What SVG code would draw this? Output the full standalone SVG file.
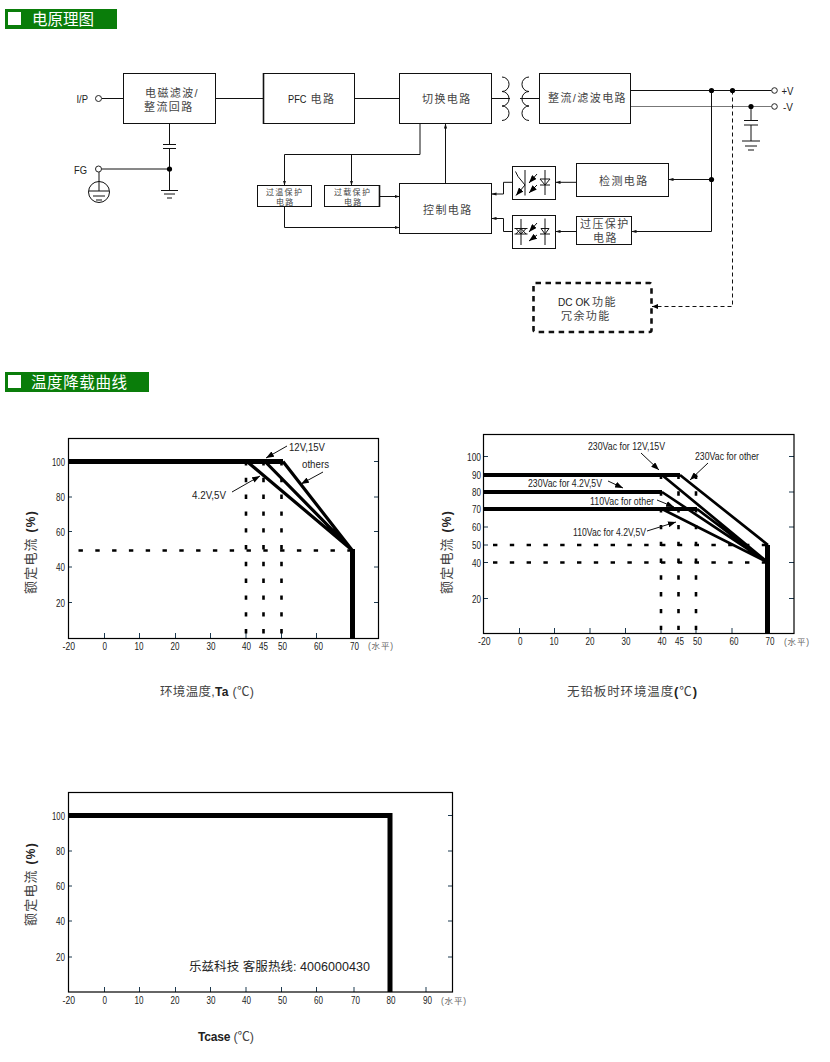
<svg xmlns="http://www.w3.org/2000/svg" width="830" height="1062" viewBox="0 0 830 1062">
<style>
text{font-family:"Liberation Sans","Noto Sans CJK SC",sans-serif;fill:#222}
.cj{fill:#444;font-size:11px;letter-spacing:1.4px}
.sm{font-size:8px;letter-spacing:1.3px}
.ban{fill:#fff;font-size:15.5px}
.lab{font-size:10.5px;fill:#222}
.unit{font-size:8.5px;fill:#666}
.ylab{font-size:13px;fill:#444;letter-spacing:1.2px}
.ttl{font-size:12.5px;fill:#444}
.b{font-weight:bold;fill:#222}
.box{fill:#fff;stroke:#111;stroke-width:1}
.w{fill:none;stroke:#111;stroke-width:1}
.wa{fill:none;stroke:#111;stroke-width:1;marker-end:url(#a)}
.dot{fill:#000}
.pin{fill:#fff;stroke:#222;stroke-width:1}
.frame{fill:none;stroke:#000;stroke-width:1.2}
.tick{fill:none;stroke:#1d3a50;stroke-width:1}
.curve{fill:none;stroke:#000;stroke-width:3.2}
.curve2{fill:none;stroke:#000;stroke-width:2.7}
.heavy{fill:none;stroke:#000;stroke-width:5}
.bar{fill:none;stroke:#000;stroke-width:4}
.dash{fill:none;stroke:#000;stroke-width:2.4;stroke-dasharray:4.4 12.4}
.vd{fill:none;stroke:#000;stroke-width:2.6;stroke-dasharray:4.4 12.4}
.ann{fill:none;stroke:#111;stroke-width:1;marker-end:url(#b)}
</style>
<defs>
<marker id="a" markerUnits="userSpaceOnUse" markerWidth="5" markerHeight="4" refX="5" refY="2" orient="auto"><path d="M0 0.4L5 2L0 3.6Z" fill="#111"/></marker>
<marker id="b" markerUnits="userSpaceOnUse" markerWidth="8" markerHeight="6" refX="8" refY="3" orient="auto"><path d="M0 0L8 3L0 6Z" fill="#000"/></marker>
<marker id="c" markerUnits="userSpaceOnUse" markerWidth="6" markerHeight="5" refX="6" refY="2.5" orient="auto"><path d="M0 0L6 2.5L0 5Z" fill="#000"/></marker>
</defs>
<rect width="830" height="1062" fill="#fff"/>

<g id="banner1"><rect x="5" y="9" width="112" height="20" fill="#0a7d0a"/><rect x="8" y="12" width="13" height="13" fill="#fff"/><text class="ban" x="32" y="25" textLength="62">电原理图</text></g>
<g id="banner2"><rect x="5" y="372" width="144" height="20" fill="#0a7d0a"/><rect x="8" y="375" width="13" height="13" fill="#fff"/><text class="ban" x="31" y="388" textLength="96">温度降载曲线</text></g>

<g id="connectors">
<path class="w" d="M102 98.5H123.5M215.5 98.5H263M354.5 98.5H399.5M491.5 98.5H510M520 98.5H539.5"/>
<path class="w" d="M169.5 123.5V144.5M163 144.5H176M163 148.5H176M169.5 148.5V190.5M102 169H169.5M161 190.5H178M164 194H175M167 198H172"/>
<path class="w" d="M99 172V191M89 191H109M93 196H105M96 200H102"/>
<circle class="w" cx="99" cy="192" r="10.5"/>
<path class="w" d="M502 77A7 7.2 0 0 1 502 91.5A7 7.2 0 0 1 502 106A7 7.2 0 0 1 502 120.5"/>
<path class="w" d="M529 77A7 7.2 0 0 0 529 91.5A7 7.2 0 0 0 529 106A7 7.2 0 0 0 529 120.5"/>
<path class="w" d="M630.5 90.5H771.5"/>
<path d="M630.5 106.5H771.5" fill="none" stroke="#777" stroke-width="1.2"/>
<path class="w" d="M711.5 90.5V231.5"/>
<path class="wa" d="M711.5 179.5H668.5"/>
<path class="wa" d="M711.5 231.5H631.5"/>
<path class="wa" d="M576.5 182.3H555.5"/>
<path class="wa" d="M576.5 231.5H555.5"/>
<path class="wa" d="M512.5 182.3H503.5V194H491.5"/>
<path class="wa" d="M512.5 231.5H503.5V218.5H491.5"/>
<path class="w" d="M751 106.5V120.5M744 120.5H758M744 125H758M751 125V141M742 141H760M745 146H757M748 150H754"/>
<path class="w" d="M420 123.5V154.5H284.5"/>
<path class="wa" d="M284.5 154.5V185.5"/>
<path class="wa" d="M351.5 154.5V185.5"/>
<path class="wa" d="M379.5 196.5H399.5"/>
<path class="wa" d="M284.5 206.5V227.5H399.5"/>
<path class="wa" d="M445.5 183.5V123.5"/>
<path d="M732.5 90.5V306.5H652" fill="none" stroke="#111" stroke-width="1" stroke-dasharray="4 3" marker-end="url(#c)"/>
<circle class="dot" cx="169.5" cy="169" r="2.6"/><circle class="dot" cx="711.5" cy="90.5" r="2.6"/><circle class="dot" cx="732.5" cy="90.5" r="2.6"/><circle class="dot" cx="751" cy="106.5" r="2.6"/><circle class="dot" cx="711.5" cy="179.5" r="2.6"/>
</g>

<g id="pins">
<text class="lab" x="76.5" y="103" textLength="11.5" lengthAdjust="spacingAndGlyphs">I/P</text><circle class="pin" cx="98.5" cy="98.5" r="3"/>
<text class="lab" x="74" y="173.5" textLength="13" lengthAdjust="spacingAndGlyphs">FG</text><circle class="pin" cx="98.5" cy="169" r="3"/>
<circle class="pin" cx="774.5" cy="90.5" r="2.8"/><text class="lab" x="781.5" y="94.5" textLength="12" lengthAdjust="spacingAndGlyphs">+V</text>
<circle class="pin" cx="774.5" cy="106.5" r="2.8"/><text class="lab" x="783" y="110.5" textLength="10" lengthAdjust="spacingAndGlyphs">-V</text>
</g>

<g id="emi"><rect class="box" x="123.5" y="73.5" width="92" height="50"/><text class="cj" x="145" y="97">电磁滤波/</text><text class="cj" x="144" y="110.5">整流回路</text></g>
<g id="pfc"><rect class="box" x="263.5" y="73.5" width="91" height="50"/><path d="M263.5 73V124" stroke="#111" stroke-width="1.6"/><text class="lab" x="288" y="102.5" textLength="18.5" lengthAdjust="spacingAndGlyphs">PFC</text><text class="cj" x="310.5" y="103">电路</text></g>
<g id="switch"><rect class="box" x="399.5" y="73.5" width="92" height="50"/><text class="cj" x="422" y="102.5">切换电路</text></g>
<g id="rectifier"><rect class="box" x="539.5" y="73.5" width="91" height="50"/><text class="cj" x="548" y="102" textLength="79">整流/滤波电路</text></g>
<g id="overtemp"><rect class="box" x="257.5" y="185.5" width="54" height="21"/><text class="cj sm" x="266" y="194.5">过温保护</text><text class="cj sm" x="276" y="204.5">电路</text></g>
<g id="overload"><rect class="box" x="324.5" y="185.5" width="55" height="21"/><path d="M379.5 185V207" stroke="#111" stroke-width="1.6"/><text class="cj sm" x="334" y="194.5">过载保护</text><text class="cj sm" x="344" y="204.5">电路</text></g>
<g id="control"><rect class="box" x="399.5" y="183.5" width="92" height="50"/><text class="cj" x="423" y="213.5">控制电路</text></g>
<g id="detect"><rect class="box" x="576.5" y="163.5" width="92" height="33"/><text class="cj" x="599" y="185">检测电路</text></g>
<g id="ovp"><rect class="box" x="576.5" y="216.5" width="55" height="28"/><text class="cj" x="580" y="228">过压保护</text><text class="cj" x="593" y="241.5">电路</text></g>
<g id="opto1"><rect class="box" x="512.5" y="166.5" width="43" height="33"/>
<path class="w" d="M525 170V195.5M515.5 171.5L518 176.5L525 185"/><path class="ann" d="M525 185L516 195.5"/><path class="ann" d="M537 174L529 183"/><path class="ann" d="M537 185L529 193"/>
<path class="w" d="M545 170V195M540 185H550M540 179H550L545 185Z"/></g>
<g id="opto2"><rect class="box" x="512.5" y="215.5" width="43" height="33"/>
<path class="w" d="M521 219V245M514.5 228.5H527.5M514.5 234H527.5M516 228.5L521 234L526 228.5M516 234L521 228.5L526 234"/><path class="ann" d="M537 223L529 232"/><path class="ann" d="M537 235L529 241"/>
<path class="w" d="M545 218.5V245M541 228.5H549M540 234H550M541 228.5L545 234L549 228.5"/></g>
<g id="dcok"><rect x="533.5" y="283" width="118" height="49" rx="2" fill="none" stroke="#111" stroke-width="2.6" stroke-dasharray="5.5 4.5"/><text class="lab" x="558" y="306" textLength="32" lengthAdjust="spacingAndGlyphs">DC OK</text><text class="cj" x="592" y="306" letter-spacing="0" font-size="10">功能</text><text class="cj" x="561" y="320">冗余功能</text></g>

<g id="chart1">
<path class="tick" d="M104.5 638V633M139.5 638V633M175.5 638V633M210.5 638V633M246 638V633M281.5 638V633M316.5 638V633M352 638V633M68 461.5H72M68 497H72M68 531.5H72M68 567H72M68 602.5H72M378 461.5H374M378 497H374M378 531.5H374M378 567H374M378 602.5H374"/>
<rect class="frame" x="68.5" y="438.5" width="310" height="200"/>
<path class="dash" d="M78.5 550.5H352"/>
<path class="vd" d="M246 461V638M263.5 461V638M281.5 461V638"/>
<path class="heavy" d="M68 461.5H283"/>
<path class="curve" d="M247 461.5L352 550M265 461.5L352 550M283 461.5L352 550"/>
<path class="heavy" d="M352.5 549V638"/>
<path class="ann" d="M287 446L266 458"/><path class="ann" d="M323 472L301 484"/><path class="ann" d="M232 492L260 476"/>
<text class="lab" x="289" y="451" textLength="36" lengthAdjust="spacingAndGlyphs">12V,15V</text><text class="lab" x="302" y="468" textLength="27" lengthAdjust="spacingAndGlyphs">others</text><text class="lab" x="192" y="499" textLength="34" lengthAdjust="spacingAndGlyphs">4.2V,5V</text>
<g class="labs"><text class="lab" x="52" y="465.5" textLength="13" lengthAdjust="spacingAndGlyphs">100</text><text class="lab" x="56" y="501" textLength="9" lengthAdjust="spacingAndGlyphs">80</text><text class="lab" x="56" y="535.5" textLength="9" lengthAdjust="spacingAndGlyphs">60</text><text class="lab" x="56" y="571" textLength="9" lengthAdjust="spacingAndGlyphs">40</text><text class="lab" x="56" y="606.5" textLength="9" lengthAdjust="spacingAndGlyphs">20</text>
<text class="lab" x="62.5" y="650" textLength="12.5" lengthAdjust="spacingAndGlyphs">-20</text><text class="lab" x="102.5" y="650" textLength="4.5" lengthAdjust="spacingAndGlyphs">0</text><text class="lab" x="134.5" y="650" textLength="9" lengthAdjust="spacingAndGlyphs">10</text><text class="lab" x="170.5" y="650" textLength="9" lengthAdjust="spacingAndGlyphs">20</text><text class="lab" x="206.5" y="650" textLength="9" lengthAdjust="spacingAndGlyphs">30</text><text class="lab" x="242" y="650" textLength="9" lengthAdjust="spacingAndGlyphs">40</text><text class="lab" x="259" y="650" textLength="9" lengthAdjust="spacingAndGlyphs">45</text><text class="lab" x="278" y="650" textLength="9" lengthAdjust="spacingAndGlyphs">50</text><text class="lab" x="314" y="650" textLength="9" lengthAdjust="spacingAndGlyphs">60</text><text class="lab" x="350" y="650" textLength="9" lengthAdjust="spacingAndGlyphs">70</text></g>
<text class="unit" x="368" y="649" textLength="25">(水平)</text>
<text class="ylab" transform="translate(35,594) rotate(-90)">额定电流 <tspan class="b" font-size="12">(%)</tspan></text>
<text class="ttl" x="160" y="696" textLength="94">环境温度,<tspan class="b" font-size="12">Ta</tspan> (℃)</text>
</g>

<g id="chart2">
<path class="tick" d="M519.5 633V628M554.5 633V628M590 633V628M625.5 633V628M661 633V628M696 633V628M732 633V628M768 633V628M484 456.5H488M484 475H488M484 492H488M484 509H488M484 527H488M484 545H488M484 562.5H488M484 598.5H488M794 456.5H789M794 492H789M794 527H789M794 562.5H789M794 598.5H789"/>
<rect class="frame" x="483.5" y="434.5" width="310.5" height="199"/>
<path class="dash" d="M493 545H768M493 562.5H768"/>
<path class="vd" d="M661 474.5V633M678.5 474.5V633M696 474.5V633"/>
<path class="bar" d="M483.5 475H680M483.5 492H662M483.5 509H697"/>
<path class="curve2" d="M680 475L768 545M662 475L768 562.5M662 492L768 562.5M697 509L768 562.5M662 509L768 562.5"/>
<path class="heavy" d="M767.5 545V633"/>
<path class="ann" d="M641 453L659 470"/><path class="ann" d="M708 463L690 480"/><path class="ann" d="M608 481L623 488"/><path class="ann" d="M657 500L674 507"/><path class="ann" d="M647 531L676 522"/>
<text class="lab" x="588" y="450" textLength="77" lengthAdjust="spacingAndGlyphs">230Vac for 12V,15V</text><text class="lab" x="695" y="460" textLength="64" lengthAdjust="spacingAndGlyphs">230Vac for other</text><text class="lab" x="528" y="487" textLength="74" lengthAdjust="spacingAndGlyphs">230Vac for 4.2V,5V</text><text class="lab" x="590" y="505" textLength="64" lengthAdjust="spacingAndGlyphs">110Vac for other</text><text class="lab" x="573" y="536" textLength="73" lengthAdjust="spacingAndGlyphs">110Vac for 4.2V,5V</text>
<g class="labs"><text class="lab" x="467" y="460.5" textLength="14" lengthAdjust="spacingAndGlyphs">100</text><text class="lab" x="472" y="478.5" textLength="9" lengthAdjust="spacingAndGlyphs">90</text><text class="lab" x="472" y="495.5" textLength="9" lengthAdjust="spacingAndGlyphs">80</text><text class="lab" x="472" y="513" textLength="9" lengthAdjust="spacingAndGlyphs">70</text><text class="lab" x="472" y="531" textLength="9" lengthAdjust="spacingAndGlyphs">60</text><text class="lab" x="472" y="549" textLength="9" lengthAdjust="spacingAndGlyphs">50</text><text class="lab" x="472" y="566.5" textLength="9" lengthAdjust="spacingAndGlyphs">40</text><text class="lab" x="472" y="602.5" textLength="9" lengthAdjust="spacingAndGlyphs">20</text>
<text class="lab" x="478" y="645" textLength="12.5" lengthAdjust="spacingAndGlyphs">-20</text><text class="lab" x="518" y="645" textLength="4.5" lengthAdjust="spacingAndGlyphs">0</text><text class="lab" x="549.5" y="645" textLength="9" lengthAdjust="spacingAndGlyphs">10</text><text class="lab" x="585.5" y="645" textLength="9" lengthAdjust="spacingAndGlyphs">20</text><text class="lab" x="621.5" y="645" textLength="9" lengthAdjust="spacingAndGlyphs">30</text><text class="lab" x="657.5" y="645" textLength="9" lengthAdjust="spacingAndGlyphs">40</text><text class="lab" x="675" y="645" textLength="9" lengthAdjust="spacingAndGlyphs">45</text><text class="lab" x="693" y="645" textLength="9" lengthAdjust="spacingAndGlyphs">50</text><text class="lab" x="729.5" y="645" textLength="9" lengthAdjust="spacingAndGlyphs">60</text><text class="lab" x="765.5" y="645" textLength="9" lengthAdjust="spacingAndGlyphs">70</text></g>
<text class="unit" x="784" y="645" textLength="25">(水平)</text>
<text class="ylab" transform="translate(451,594) rotate(-90)">额定电流 <tspan class="b" font-size="12">(%)</tspan></text>
<text class="ttl" x="567" y="696" textLength="130">无铅板时环境温度<tspan class="b" font-size="13">(</tspan>℃<tspan class="b" font-size="13">)</tspan></text>
</g>

<g id="chart3">
<path class="tick" d="M104.5 992V987M139.5 992V987M175.5 992V987M210.5 992V987M246 992V987M281.5 992V987M316.5 992V987M354 992V987M390 992V987M426 992V987M68 815.5H72M68 851H72M68 886H72M68 921H72M68 957H72M452 815.5H448M452 851H448M452 886H448M452 921H448M452 957H448"/>
<rect class="frame" x="68.5" y="792.5" width="384" height="199.5"/>
<path class="heavy" d="M68 815.5H392M390 813V992"/>
<text x="189" y="971" font-size="12.5" textLength="181">乐兹科技 客服热线: 4006000430</text>
<g class="labs"><text class="lab" x="52" y="819.5" textLength="13" lengthAdjust="spacingAndGlyphs">100</text><text class="lab" x="56" y="855" textLength="9" lengthAdjust="spacingAndGlyphs">80</text><text class="lab" x="56" y="890" textLength="9" lengthAdjust="spacingAndGlyphs">60</text><text class="lab" x="56" y="925" textLength="9" lengthAdjust="spacingAndGlyphs">40</text><text class="lab" x="56" y="961" textLength="9" lengthAdjust="spacingAndGlyphs">20</text>
<text class="lab" x="62.5" y="1004" textLength="12.5" lengthAdjust="spacingAndGlyphs">-20</text><text class="lab" x="102.5" y="1004" textLength="4.5" lengthAdjust="spacingAndGlyphs">0</text><text class="lab" x="134.5" y="1004" textLength="9" lengthAdjust="spacingAndGlyphs">10</text><text class="lab" x="170.5" y="1004" textLength="9" lengthAdjust="spacingAndGlyphs">20</text><text class="lab" x="206.5" y="1004" textLength="9" lengthAdjust="spacingAndGlyphs">30</text><text class="lab" x="242" y="1004" textLength="9" lengthAdjust="spacingAndGlyphs">40</text><text class="lab" x="278" y="1004" textLength="9" lengthAdjust="spacingAndGlyphs">50</text><text class="lab" x="314" y="1004" textLength="9" lengthAdjust="spacingAndGlyphs">60</text><text class="lab" x="351" y="1004" textLength="9" lengthAdjust="spacingAndGlyphs">70</text><text class="lab" x="386.5" y="1004" textLength="9" lengthAdjust="spacingAndGlyphs">80</text><text class="lab" x="423" y="1004" textLength="9" lengthAdjust="spacingAndGlyphs">90</text></g>
<text class="unit" x="441" y="1004" textLength="25">(水平)</text>
<text class="ylab" transform="translate(35,926) rotate(-90)">额定电流 <tspan class="b" font-size="12">(%)</tspan></text>
<text class="ttl" x="198" y="1041" textLength="56"><tspan class="b" font-size="12">Tcase</tspan> (℃)</text>
</g>
</svg>
